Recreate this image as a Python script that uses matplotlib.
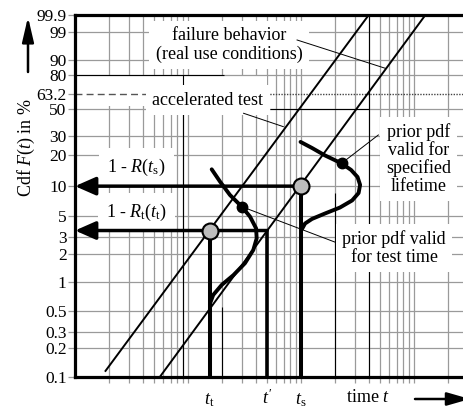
import numpy as np
import matplotlib
matplotlib.use('Agg')
import matplotlib.pyplot as plt

plt.rcParams['font.family'] = 'Liberation Serif'
plt.rcParams['mathtext.fontset'] = 'custom'
plt.rcParams['mathtext.rm'] = 'Liberation Serif'
plt.rcParams['mathtext.it'] = 'Liberation Serif:italic'
plt.rcParams['font.size'] = 13

# grid of the Weibull paper
t_grid = [2, 3, 4, 5, 6, 7, 8, 9, 10, 20, 30, 40, 50, 60, 70, 80, 90,
          100, 200, 300, 400, 500, 600, 700, 800, 900, 1000, 2000]
F_ticks = [99.9, 99, 90, 80, 63.2, 50, 30, 20, 10, 5, 3, 2, 1, 0.5, 0.3, 0.2, 0.1]
F_labels = ['99.9', '99', '90', '80', '63.2', '50', '30', '20', '10',
            '5', '3', '2', '1', '0.5', '0.3', '0.2', '0.1']
t_max = 2765

# darker grid pieces (t, F_from, F_to) and (F, t_from, t_to)
dark_v = [(9, 0.1, 80), (20, 0.1, 0.55), (200, 0.1, 8.5), (400, 0.1, 99.9)]
dark_h = [(80, 1, 21), (50, 53, 400)]

# failure lines
accel_t = [1.84, 397]
accel_F = [0.113, 99.9]
field_t = [5.65, 1259]
field_F = [0.1, 99.9]

# test and specified points
t_test, t_prime, t_spec = 15.5, 50, 100
F_test, F_spec = 3.5, 10

# prior pdf curves
pdf_test_t = [16.2, 19.2, 23.5, 29.9, 35.4, 40.0, 40.5, 37.8, 31.9, 25.2, 19.9, 16.7, 15.6]
pdf_test_F = [14.7, 11.1, 8.14, 6.18, 4.87, 3.69, 2.90, 2.19, 1.59, 1.19, 0.94, 0.735, 0.59]
pdf_spec_t = [99.0, 125, 163, 228, 277, 316, 333, 323, 283, 221, 163, 125, 108.5, 102]
pdf_spec_F = [26.7, 23.5, 20.0, 16.8, 14.5, 12.35, 10.3, 8.53, 7.16, 6.06, 5.26, 4.62, 4.14, 3.63]
dot_test = (29.9, 6.18)
dot_spec = (228, 16.8)


def fwd(F):
    F = np.clip(np.asarray(F, dtype=float), 1e-6, 100 - 1e-6)
    return np.log(-np.log(1 - F / 100.0))


def inv(u):
    return 100.0 * (1 - np.exp(-np.exp(u)))


fig = plt.figure(figsize=(4.64, 4.07), dpi=100)
ax = fig.add_axes([75 / 464, 30.3 / 407, 389 / 464, 361.7 / 407])
ax.set_xscale('log')
ax.set_yscale('function', functions=(fwd, inv))
ax.set_xlim(1, t_max)
ax.set_ylim(0.1, 99.9)

gray = '#9a9a9a'
ax.vlines(t_grid, 0.1, 99.9, color=gray, lw=0.9, zorder=1)
# blank band left of "accelerated test"
ax.fill_between([1, 50], 52.5, 79.5, color='white', lw=0, zorder=2)
h_lines = [F for F in F_ticks[1:-1] if F != 63.2]
ax.hlines(h_lines, 1, t_max, color=gray, lw=0.9, zorder=3)
for t, f0, f1 in dark_v:
    ax.vlines(t, f0, f1, color='black', lw=0.8, zorder=3.1)
for F, t0, t1 in dark_h:
    ax.hlines(F, t0, t1, color='black', lw=0.8, zorder=3.1)
ax.hlines(63.2, 1, 30, color='#555555', lw=1.0, linestyles=(0, (5, 3)), zorder=3)
ax.hlines(63.2, 30, t_max, color='#444444', lw=1.0, linestyles=(0, (1, 1)), zorder=3)

ax.set_yticks(F_ticks)
ax.set_yticklabels(F_labels, fontsize=12.5)
ax.set_xticks(t_grid)
ax.set_xticklabels([])
ax.minorticks_off()
ax.tick_params(axis='both', direction='out', length=5, width=0.9, color=gray, pad=1)
ax.tick_params(axis='x', length=4)

for s in ['left', 'top', 'bottom']:
    ax.spines[s].set_linewidth(2.3)
    ax.spines[s].set_zorder(8)
ax.spines['right'].set_visible(False)

# straight failure lines
ax.plot(accel_t, accel_F, color='black', lw=1.4, zorder=5, solid_capstyle='butt')
ax.plot(field_t, field_F, color='black', lw=1.4, zorder=5, solid_capstyle='butt')

# reading lines with arrows to the F axis
arw = dict(arrowstyle='-|>,head_length=1.25,head_width=0.55', color='black',
           lw=2.5, shrinkA=0, shrinkB=0, mutation_scale=10)
ax.annotate('', xy=(1, F_spec), xytext=(t_spec, F_spec), arrowprops=arw, zorder=6)
ax.annotate('', xy=(1, F_test), xytext=(t_prime, F_test), arrowprops=arw, zorder=6)
ax.plot([t_spec, t_spec], [F_spec, 0.1], color='black', lw=2.9, zorder=6)
ax.plot([t_test, t_test], [F_test, 0.1], color='black', lw=2.9, zorder=6)
ax.plot([t_prime, t_prime], [F_test, 0.1], color='black', lw=2.6, zorder=6)

# prior pdfs
ax.plot(pdf_test_t, pdf_test_F, color='black', lw=2.8, zorder=6,
        solid_joinstyle='round', solid_capstyle='round')
ax.plot(pdf_spec_t, pdf_spec_F, color='black', lw=2.8, zorder=6,
        solid_joinstyle='round', solid_capstyle='round')
ax.plot(*dot_test, 'o', color='black', ms=7.5, zorder=7)
ax.plot(*dot_spec, 'o', color='black', ms=7.5, zorder=7)
ax.plot([t_test, t_spec], [F_test, F_spec], 'o', ms=11.5, mfc='#bdbdbd',
        mec='black', mew=1.5, zorder=7, lw=0)

# texts with white backgrounds
box = dict(boxstyle='square,pad=0.35', facecolor='white', edgecolor='none')
ax.text(23.06, 96.4, 'failure behavior\n(real use conditions)', ha='center',
        va='center', linespacing=1.15, bbox=box, zorder=4)
ax.text(15.0, 57.9, 'accelerated test', ha='center', va='center', bbox=box, zorder=4)
ax.text(1096, 18.4, 'prior pdf\nvalid for\nspecified\nlifetime', ha='center',
        va='center', linespacing=1.05, bbox=box, zorder=4)
ax.text(665, 2.30, 'prior pdf valid\nfor test time', ha='center', va='center',
        linespacing=1.05, bbox=box, zorder=4)
ax.text(3.52, 15.5, r'1 - $R$($t_\mathrm{s}$)', ha='center', va='center',
        bbox=dict(boxstyle='square,pad=0.45', facecolor='white', edgecolor='none'), zorder=4)
ax.text(3.52, 5.45, r'1 - $R_\mathrm{t}$($t_\mathrm{t}$)', ha='center', va='center',
        bbox=dict(boxstyle='square,pad=0.45', facecolor='white', edgecolor='none'), zorder=4)

# leader lines
leader = dict(color='black', lw=0.7, zorder=5)
ax.plot([92.2, 557], [97.65, 84.7], **leader)
ax.plot([31.0, 69.7], [46.5, 36.3], **leader)
ax.plot([483, dot_spec[0]], [30.8, dot_spec[1]], **leader)
ax.plot([201, dot_test[0]], [2.64, dot_test[1]], **leader)

# time labels under the axis
xt = ax.get_xaxis_transform()
ax.text(t_test, -0.075, r'$t_\mathrm{t}$', transform=xt, ha='center', va='baseline')
ax.text(t_prime, -0.075, r"$t'$", transform=xt, ha='center', va='baseline')
ax.text(t_spec, -0.075, r'$t_\mathrm{s}$', transform=xt, ha='center', va='baseline')
fig.text(368 / 464, 1.5 / 407, r'time $t$', ha='center', va='bottom')
fig.text(26 / 464, 1 - 148 / 407, r'Cdf $F$($t$) in %', rotation=90,
         ha='center', va='center')

# axis direction arrows
ax.annotate('', xy=(470 / 464, 8 / 407), xytext=(415 / 464, 8 / 407),
            xycoords='figure fraction', textcoords='figure fraction',
            arrowprops=dict(arrowstyle='-|>,head_length=1.4,head_width=0.4',
                            color='black', lw=1.8, shrinkA=0, shrinkB=0, mutation_scale=10))
ax.annotate('', xy=(28 / 464, 1 - 17 / 407), xytext=(28 / 464, 1 - 72 / 407),
            xycoords='figure fraction', textcoords='figure fraction',
            arrowprops=dict(arrowstyle='-|>,head_length=1.5,head_width=0.35',
                            color='black', lw=1.8, shrinkA=0, shrinkB=0, mutation_scale=10))

fig.savefig('out.png', dpi=100)
